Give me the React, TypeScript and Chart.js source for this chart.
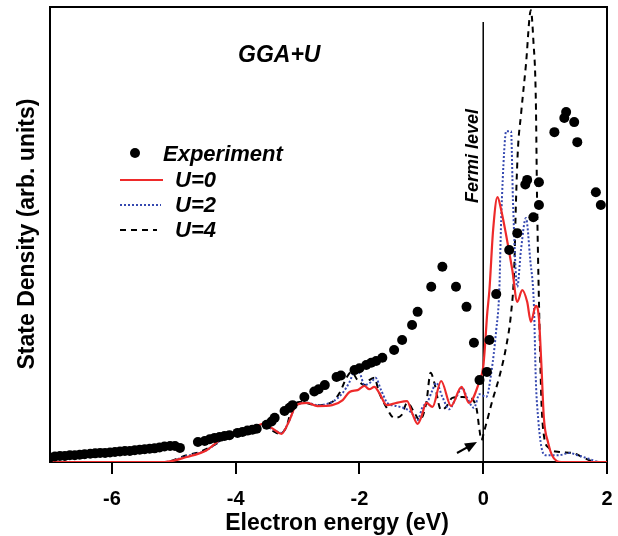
import React, { useEffect, useRef } from "react";
import { Chart, registerables } from "chart.js";

Chart.register(...registerables);

const FONT = "'Liberation Sans', Arial, Helvetica, sans-serif";

const xTicks = [-6, -4, -2, 0, 2];

const expX = [
  -7.0, -6.92, -6.84, -6.76, -6.68, -6.6, -6.52, -6.44, -6.35, -6.27, -6.19, -6.11, -6.03, -5.95, -5.87, -5.79,
  -5.71, -5.63, -5.55, -5.47, -5.39, -5.31, -5.23, -5.15, -5.06, -4.98, -4.9, -4.61, -4.5, -4.42, -4.34, -4.26,
  -4.18, -4.1, -3.97, -3.89, -3.81, -3.73, -3.66, -3.5, -3.42, -3.37, -3.21, -3.13, -3.08, -2.89, -2.73, -2.66,
  -2.56, -2.37, -2.3, -2.08, -2.0, -1.89, -1.81, -1.73, -1.63, -1.44, -1.31, -1.15, -1.06, -0.84, -0.66, -0.44,
  -0.27, -0.15, -0.06, 0.06, 0.1, 0.21, 0.42, 0.55, 0.68, 0.71, 0.81, 0.9, 0.9, 1.15, 1.31, 1.34, 1.47, 1.52,
  1.82, 1.9,
];
const expY = [
  1.0, 1.2, 1.3, 1.3, 1.5, 1.5, 1.6, 1.7, 1.8, 1.9, 2.0, 2.0, 2.1, 2.2, 2.3, 2.4,
  2.4, 2.6, 2.7, 2.8, 2.9, 3.0, 3.2, 3.4, 3.5, 3.5, 3.1, 4.4, 4.6, 5.0, 5.3, 5.5,
  5.7, 5.9, 6.4, 6.6, 6.9, 7.1, 7.3, 8.2, 8.9, 9.7, 11.2, 11.9, 12.5, 14.3, 15.5, 16.0,
  16.9, 18.7, 19.0, 20.2, 20.6, 21.3, 21.8, 22.2, 22.9, 24.6, 26.8, 30.1, 33.0, 38.5, 42.9, 38.5,
  34.1, 26.2, 18.0, 19.8, 26.8, 36.9, 46.6, 50.3, 61.0, 62.0, 53.8, 56.5, 61.5, 72.5, 75.6, 76.9, 74.7, 70.3,
  59.3, 56.5,
];

const u0X = [
  -7.0, -5.15, -4.79, -4.47, -4.26, -4.05, -3.77, -3.56, -3.42, -3.26, -3.13, -3.02, -2.84, -2.68, -2.44, -2.27,
  -2.16, -2.03, -1.92, -1.84, -1.76, -1.68, -1.56, -1.4, -1.23, -1.15, -1.06, -1.0, -0.92, -0.82, -0.68, -0.52,
  -0.35, -0.23, -0.06, 0.0, 0.03, 0.06, 0.1, 0.16, 0.23, 0.29, 0.37, 0.47, 0.55, 0.63, 0.71, 0.77, 0.85, 0.9,
  0.94, 0.98, 1.05, 1.11, 1.19, 1.26, 2.0,
];
const u0Y = [
  0, 0, 1.1, 2.6, 4.8, 6.4, 7.0, 8.4, 7.5, 6.2, 9.2, 12.5, 13.0, 12.3, 12.5, 13.6,
  15.4, 15.8, 16.7, 16.0, 16.5, 15.2, 12.5, 13.0, 13.4, 10.8, 8.4, 9.9, 13.0, 12.1, 17.8, 12.3,
  16.5, 13.0, 17.8, 20.9, 25.7, 31.9, 37.8, 51.0, 58.2, 55.4, 49.9, 42.2, 35.2, 37.8, 35.2, 30.8, 34.3, 31.6,
  21.3, 9.7, 4.2, 1.5, 0.2, 0, 0,
];

const u2X = [
  -7.0, -5.15, -4.79, -4.47, -4.26, -4.05, -3.77, -3.56, -3.42, -3.26, -3.13, -3.02, -2.84, -2.68, -2.44, -2.27,
  -2.16, -2.08, -2.0, -1.92, -1.81, -1.74, -1.65, -1.55, -1.4, -1.24, -1.16, -1.06, -0.98, -0.9, -0.82, -0.76,
  -0.66, -0.55, -0.44, -0.34, -0.26, -0.15, -0.06, 0.05, 0.13, 0.21, 0.26, 0.29, 0.34, 0.37, 0.45, 0.48,
  0.55, 0.61, 0.69, 0.76, 0.82, 0.85, 0.89, 0.94, 1.0, 1.23, 1.39, 1.52, 1.71, 1.87, 2.0,
];
const u2Y = [
  0, 0, 1.3, 2.6, 4.6, 6.2, 7.0, 8.1, 7.3, 6.4, 9.2, 12.5, 13.0, 12.5, 13.2, 15.2,
  17.6, 19.8, 19.6, 16.9, 17.6, 18.5, 15.8, 13.0, 12.3, 11.6, 10.8, 9.2, 12.1, 13.2, 15.8, 17.4,
  14.3, 11.6, 14.1, 16.3, 14.1, 11.9, 14.9, 14.3, 19.6, 29.0, 37.8, 53.2, 68.6, 72.7, 72.7, 57.6,
  38.5, 46.6, 53.6, 44.4, 34.1, 18.0, 9.2, 3.3, 1.5, 1.5, 2.0, 1.5, 0.7, 0, 0,
];

const u4X = [
  -7.0, -5.15, -4.79, -4.58, -4.26, -4.05, -3.77, -3.56, -3.42, -3.29, -3.18, -3.1, -2.97, -2.68, -2.44, -2.32,
  -2.21, -2.13, -2.03, -1.92, -1.84, -1.76, -1.68, -1.56, -1.44, -1.32, -1.23, -1.11, -1.03, -0.92, -0.85, -0.79,
  -0.68, -0.6, -0.5, -0.34, -0.23, -0.11, -0.06, -0.03, 0.02, 0.15, 0.26, 0.37, 0.45, 0.5, 0.53, 0.56,
  0.61, 0.69, 0.77, 0.81, 0.85, 0.87, 0.9, 0.94, 0.98, 1.06, 1.23, 1.44, 1.6, 1.76, 1.87, 2.0,
];
const u4Y = [
  0, 0, 1.5, 2.2, 4.4, 6.2, 7.0, 7.9, 7.0, 6.2, 7.7, 11.4, 13.2, 12.5, 13.2, 15.2,
  18.5, 19.8, 18.0, 16.9, 18.0, 18.5, 15.2, 11.9, 9.7, 10.3, 13.0, 10.8, 9.2, 13.0, 19.6, 17.4,
  11.4, 12.1, 14.1, 14.3, 14.1, 11.9, 7.0, 4.8, 7.0, 13.6, 18.7, 25.3, 32.7, 42.2, 57.6, 68.6,
  76.3, 87.3, 99.3, 92.7, 79.6, 57.6, 35.6, 13.6, 5.9, 3.1, 2.2, 2.0, 1.1, 0.2, 0, 0,
];

const legendLabels = ["Experiment", "U=0", "U=2", "U=4"];
const RED = "#ee2a2a";
const BLUE = "#3548b0";

const pts = (xs: number[], ys: number[]) => xs.map((x, i) => ({ x, y: ys[i] }));

const decor = {
  id: "decor",
  beforeDatasetsDraw(chart: any) {
    const { ctx, chartArea: a, scales } = chart;
    ctx.save();
    ctx.strokeStyle = "#000";
    ctx.lineWidth = 2;
    ctx.strokeRect(a.left, a.top, a.right - a.left, a.bottom - a.top);
    const x0 = scales.x.getPixelForValue(0);
    ctx.lineWidth = 1.5;
    ctx.beginPath();
    ctx.moveTo(x0, a.top + 15);
    ctx.lineTo(x0, a.bottom);
    ctx.stroke();
    ctx.restore();
  },
  afterDraw(chart: any) {
    const { ctx } = chart;
    ctx.save();
    ctx.fillStyle = "#000";
    // axis titles
    ctx.font = `bold 23px ${FONT}`;
    ctx.textAlign = "center";
    ctx.textBaseline = "alphabetic";
    ctx.fillText("Electron energy (eV)", 337, 530);
    ctx.save();
    ctx.translate(34, 234);
    ctx.rotate(-Math.PI / 2);
    ctx.fillText("State Density (arb. units)", 0, 0);
    ctx.restore();
    // GGA+U
    ctx.font = `italic bold 23px ${FONT}`;
    ctx.textAlign = "left";
    ctx.fillText("GGA+U", 238, 62);
    // Fermi level
    ctx.save();
    ctx.font = `italic bold 18px ${FONT}`;
    ctx.translate(478, 156);
    ctx.rotate(-Math.PI / 2);
    ctx.textAlign = "center";
    ctx.fillText("Fermi level", 0, 0);
    ctx.restore();
    // arrow
    const tipX = 477, tipY = 442, tailX = 457, tailY = 453;
    const ang = Math.atan2(tipY - tailY, tipX - tailX);
    ctx.strokeStyle = "#000";
    ctx.lineWidth = 2;
    ctx.beginPath();
    ctx.moveTo(tailX, tailY);
    ctx.lineTo(tipX - 6 * Math.cos(ang), tipY - 6 * Math.sin(ang));
    ctx.stroke();
    ctx.beginPath();
    ctx.moveTo(tipX, tipY);
    ctx.lineTo(tipX - 12 * Math.cos(ang) + 5 * Math.sin(ang), tipY - 12 * Math.sin(ang) - 5 * Math.cos(ang));
    ctx.lineTo(tipX - 12 * Math.cos(ang) - 5 * Math.sin(ang), tipY - 12 * Math.sin(ang) + 5 * Math.cos(ang));
    ctx.closePath();
    ctx.fill();
    // legend
    ctx.font = `italic bold 22px ${FONT}`;
    ctx.textAlign = "left";
    ctx.textBaseline = "middle";
    ctx.beginPath();
    ctx.arc(135, 153, 5, 0, Math.PI * 2);
    ctx.fill();
    ctx.fillText(legendLabels[0], 163, 155);
    const rows = [
      { y: 180, color: RED, dash: [] as number[], w: 2.2, x2: 163 },
      { y: 205, color: BLUE, dash: [2, 2], w: 2, x2: 161 },
      { y: 230, color: "#000", dash: [6, 5], w: 2, x2: 157 },
    ];
    rows.forEach((r, i) => {
      ctx.save();
      ctx.strokeStyle = r.color;
      ctx.lineWidth = r.w;
      ctx.setLineDash(r.dash);
      ctx.beginPath();
      ctx.moveTo(120, r.y);
      ctx.lineTo(r.x2, r.y);
      ctx.stroke();
      ctx.restore();
      ctx.fillText(legendLabels[i + 1], 175, r.y + 1);
    });
    ctx.restore();
  },
};

export default function App() {
  const ref = useRef<HTMLCanvasElement>(null);
  useEffect(() => {
    if (!ref.current) return;
    const chart = new Chart(ref.current, {
      type: "line",
      data: {
        datasets: [
          {
            label: legendLabels[0],
            data: pts(expX, expY),
            showLine: false,
            pointRadius: 5,
            pointBackgroundColor: "#000",
            pointBorderWidth: 0,
            borderColor: "#000",
          },
          {
            label: legendLabels[1],
            data: pts(u0X, u0Y),
            borderColor: RED,
            borderWidth: 2.2,
            pointRadius: 0,
            cubicInterpolationMode: "monotone",
          },
          {
            label: legendLabels[2],
            data: pts(u2X, u2Y),
            borderColor: BLUE,
            borderWidth: 2,
            borderDash: [2, 2],
            pointRadius: 0,
            cubicInterpolationMode: "monotone",
          },
          {
            label: legendLabels[3],
            data: pts(u4X, u4Y),
            borderColor: "#000",
            borderWidth: 2,
            borderDash: [6, 5],
            pointRadius: 0,
            cubicInterpolationMode: "monotone",
          },
        ],
      },
      options: {
        responsive: false,
        maintainAspectRatio: false,
        animation: false,
        events: [],
        layout: { padding: { top: 7, right: 11, left: 0, bottom: 0 } },
        plugins: { legend: { display: false }, tooltip: { enabled: false } },
        scales: {
          x: {
            type: "linear",
            min: -7,
            max: 2,
            afterBuildTicks: (s: any) => {
              s.ticks = xTicks.map((v) => ({ value: v }));
            },
            afterFit: (s: any) => {
              s.height = 74;
              s.paddingLeft = 0;
              s.paddingRight = 0;
            },
            grid: {
              display: true,
              drawOnChartArea: false,
              drawTicks: true,
              tickLength: 12,
              color: "#000",
              lineWidth: 2,
            },
            border: { display: false },
            ticks: {
              color: "#000",
              font: { family: FONT, size: 20, weight: "bold" },
              padding: 13,
              maxRotation: 0,
              autoSkip: false,
              callback: (v: any) => String(v),
            },
          },
          y: {
            min: 0,
            max: 100,
            afterFit: (s: any) => {
              s.width = 50;
              s.paddingTop = 0;
              s.paddingBottom = 0;
            },
            ticks: { display: false },
            grid: { display: false },
            border: { display: false },
          },
        },
      },
      plugins: [decor],
    });
    return () => chart.destroy();
  }, []);
  return (
    <div style={{ position: "fixed", left: 0, top: 0, width: 618, height: 536, background: "#fff" }}>
      <canvas ref={ref} width={618} height={536} style={{ width: 618, height: 536 }} />
    </div>
  );
}
